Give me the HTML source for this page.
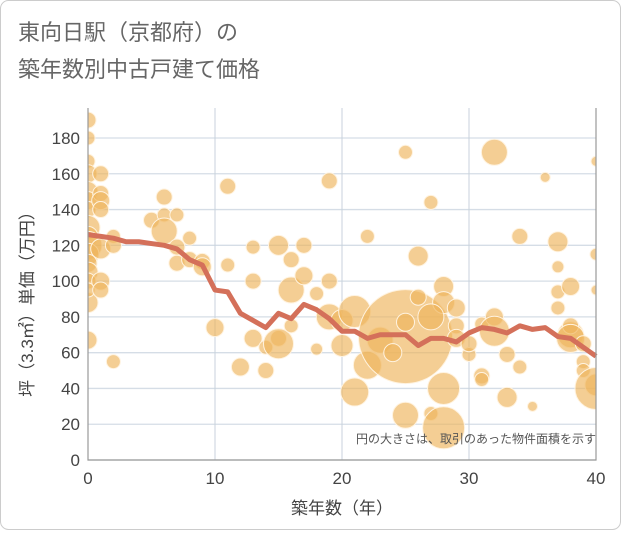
<!DOCTYPE html>
<html><head><meta charset="utf-8"><style>
body{margin:0;background:#fff;}
#wrap{position:relative;width:621px;height:530px;}
</style></head><body>
<div id="wrap">
<svg id="chart" width="621" height="530" xmlns="http://www.w3.org/2000/svg" font-family="'Liberation Sans','Noto Sans CJK JP',sans-serif">
<defs><clipPath id="plotclip"><rect x="88" y="100" width="508" height="360"/></clipPath></defs>
<rect x="0.5" y="0.5" width="620" height="529" rx="8" fill="#fff" stroke="#ccc"/>
<text x="18" y="40" font-size="22" fill="#666">東向日駅（京都府）の</text>
<text x="18" y="77" font-size="22" fill="#666">築年数別中古戸建て価格</text>
<g id="grid"></g><g id="bubbles" clip-path="url(#plotclip)"></g><g id="line"></g><g id="axes"></g>
<text x="596" y="443" font-size="12" fill="#555" text-anchor="end">円の大きさは、取引のあった物件面積を示す</text>
<text x="342" y="514" font-size="17" fill="#444" text-anchor="middle">築年数（年）</text>
<text transform="translate(33,300) rotate(-90)" font-size="17" fill="#444" text-anchor="middle">坪（3.3㎡）単価（万円）</text>
</svg>
</div>
<script>
const xTicks=[0,10,20,30,40];
const yTicks=[0,20,40,60,80,100,120,140,160,180];
const lineX=[0,1,2,3,4,5,6,7,8,9,10,11,12,13,14,15,16,17,18,19,20,21,22,23,24,25,26,27,28,29,30,31,32,33,34,35,36,37,38,39,40];
const lineY=[126,125,124,122,122,121,120,118,112,109,95,94,82,78,74,82,79,87,84,79,72,72,68,70,70,70,64,68,68,66,71,74,73,71,75,73,74,69,68,63,58];
const bubX=[0,0,0,0,0,0,0,0,0,0,0,0,0,0,0,0,0,1,1,1,1,1,1,1,2,2,2,5,6,6,6,7,7,7,8,8,9,9,10,11,11,12,13,13,13,14,14,15,15,15,16,16,16,17,17,18,18,19,19,19,20,20,21,21,22,22,23,25,25,25,26,26,27,27,28,28,28,28,29,29,29,30,30,31,31,31,32,32,33,33,34,34,35,36,37,37,37,37,38,38,38,38,39,39,39,40,40,40,40,40,25,32,27,24];
const bubY=[190,180,167,160,150,145,140,130,125,120,115,110,105,100,88,67,95,160,149,145,140,118,100,95,125,55,120,134,147,137,128,137,119,110,124,112,111,108,74,153,109,52,119,100,68,50,63,120,68,65,95,112,75,120,103,93,62,156,100,80,78,64,38,83,125,53,67,69,172,77,91,114,144,26,18,40,97,88,85,75,68,59,65,47,45,76,172,80,59,35,125,52,30,158,122,108,94,85,70,97,75,68,65,55,50,42,167,115,95,40,25,72,80,60,78];
const bubR=[8,7,7,9,10,9,8,12,10,14,11,9,10,8,10,9,7,8,8,9,8,10,9,8,7,7,8,8,8,7,13,7,8,8,7,8,8,9,9,8,7,9,7,8,9,8,7,10,8,15,13,8,7,8,9,7,6,8,8,13,11,11,14,16,7,14,13,47,7,9,8,10,7,7,21,16,10,11,9,8,9,7,8,8,7,7,13,9,8,10,8,7,5,5,10,6,7,7,13,9,8,14,8,7,7,11,5,6,5,21,13,15,13,9,11];
const X0=88,X1=596,Y0=460,Y1=138;
const sx=v=>X0+(v-0)/40*(X1-X0);
const sy=v=>Y0-v/180*(Y0-Y1);
const NS='http://www.w3.org/2000/svg';
function mk(t,a){const e=document.createElementNS(NS,t);for(const k in a)e.setAttribute(k,a[k]);return e;}
const grid=document.getElementById('grid'),axes=document.getElementById('axes');
yTicks.forEach(v=>{const l=mk('line',{x1:X0,x2:X1,y1:sy(v),y2:sy(v),stroke:'#d5dde6','stroke-width':1.3});


grid.appendChild(l);
const t=mk('text',{x:X0-8,y:sy(v)+6,'font-size':17,fill:'#444','text-anchor':'end'});t.textContent=v;


axes.appendChild(t);});
xTicks.forEach(v=>{const l=mk('line',{x1:sx(v),x2:sx(v),y1:Y1-30,y2:Y0,stroke:'#c8d2dc','stroke-width':1});


grid.appendChild(l);
const t=mk('text',{x:sx(v),y:Y0+24,'font-size':17,fill:'#444','text-anchor':'middle'});t.textContent=v;


axes.appendChild(t);});
const ax=mk('path',{d:`M${X0} ${Y1-30}V${Y0}H${X1}V${Y1-30}`,fill:'none',stroke:'#999','stroke-width':1.2});


axes.appendChild(ax);
const bg=document.getElementById('bubbles');
bubX.forEach((x,i)=>{const c=mk('circle',{cx:sx(x),cy:sy(bubY[i]),r:bubR[i],fill:'rgba(238,180,90,0.65)',stroke:'#fff3e0','stroke-width':1});


bg.appendChild(c);});
const p=mk('polyline',{points:lineX.map((x,i)=>sx(x)+','+sy(lineY[i])).join(' '),fill:'none',stroke:'#d4705a','stroke-width':5,'stroke-linejoin':'round'});


document.getElementById('line').appendChild(p);
</script>
</body></html>
